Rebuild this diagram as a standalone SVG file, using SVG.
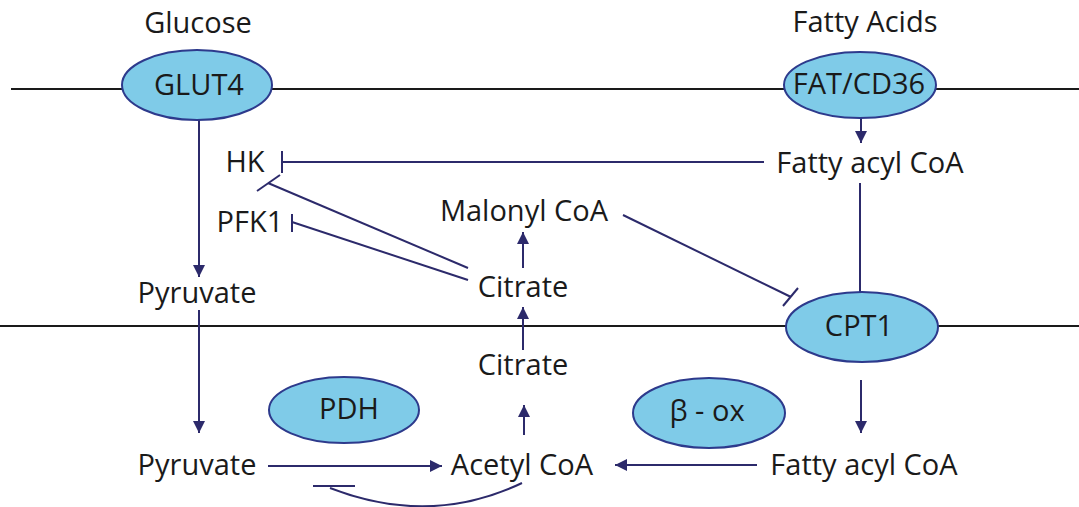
<svg xmlns="http://www.w3.org/2000/svg" width="1079" height="507" viewBox="0 0 1079 507">
<style>
text{font-family:"Open Sans","Liberation Sans",sans-serif;font-size:29px;fill:#1a1a1a;text-anchor:middle}
.mem{stroke:#1a1a1a;stroke-width:2;fill:none}
.enz{fill:#7fcbe8;stroke:#2d3a8c;stroke-width:2}
.c{stroke:#2c2a6b;stroke-width:2;fill:none}
</style>
<defs>
<marker id="ah" viewBox="0 0 12 12" refX="12" refY="6" markerWidth="12" markerHeight="12" markerUnits="userSpaceOnUse" orient="auto">
<path d="M0,0 L12,6 L0,12 Z" fill="#2c2a6b"/>
</marker>
</defs>
<g id="membranes">
<line class="mem" x1="11" y1="89" x2="1079" y2="89"/>
<line class="mem" x1="0" y1="326" x2="1079" y2="326"/>
</g>
<g id="connectors">
<line class="c" x1="199" y1="118" x2="199" y2="277" marker-end="url(#ah)"/>
<line class="c" x1="861" y1="118" x2="861" y2="143" marker-end="url(#ah)"/>
<line class="c" x1="282" y1="162" x2="764" y2="162"/>
<line class="c" x1="282" y1="151" x2="282" y2="173"/>
<line class="c" x1="468" y1="268" x2="268" y2="183"/>
<line class="c" x1="257" y1="191" x2="280" y2="175"/>
<line class="c" x1="468" y1="280" x2="292" y2="222"/>
<line class="c" x1="292" y1="214" x2="292" y2="232"/>
<line class="c" x1="523" y1="268" x2="523" y2="232" marker-end="url(#ah)"/>
<line class="c" x1="523" y1="350" x2="523" y2="307" marker-end="url(#ah)"/>
<line class="c" x1="524" y1="435" x2="524" y2="405" marker-end="url(#ah)"/>
<line class="c" x1="860" y1="183" x2="860" y2="292"/>
<line class="c" x1="623" y1="215" x2="791" y2="297"/>
<line class="c" x1="783" y1="306" x2="798" y2="288"/>
<line class="c" x1="199" y1="310" x2="199" y2="433" marker-end="url(#ah)"/>
<line class="c" x1="861" y1="380" x2="861" y2="433" marker-end="url(#ah)"/>
<line class="c" x1="268" y1="466" x2="442" y2="466" marker-end="url(#ah)"/>
<line class="c" x1="757" y1="465" x2="615" y2="465" marker-end="url(#ah)"/>
<path class="c" d="M522,483 Q430,527 330,488"/>
<line class="c" x1="313" y1="486" x2="355" y2="486"/>
</g>
<g id="glucose"><text x="198" y="33">Glucose</text></g>
<g id="fatty-acids"><text x="865" y="32">Fatty Acids</text></g>
<g id="glut4"><ellipse class="enz" cx="197" cy="85" rx="75" ry="35"/><text x="199" y="95">GLUT4</text></g>
<g id="fatcd36"><ellipse class="enz" cx="860" cy="85" rx="76" ry="33"/><text x="859" y="94">FAT/CD36</text></g>
<g id="hk"><text x="245" y="172">HK</text></g>
<g id="fatty-acyl-coa-1"><text x="870" y="173">Fatty acyl CoA</text></g>
<g id="pfk1"><text x="250" y="232">PFK1</text></g>
<g id="malonyl-coa"><text x="524" y="221">Malonyl CoA</text></g>
<g id="pyruvate-1"><text x="197" y="303">Pyruvate</text></g>
<g id="citrate-1"><text x="523" y="297">Citrate</text></g>
<g id="cpt1"><ellipse class="enz" cx="862" cy="327" rx="76" ry="35"/><text x="859" y="336">CPT1</text></g>
<g id="citrate-2"><text x="523" y="375">Citrate</text></g>
<g id="pdh"><ellipse class="enz" cx="344" cy="410" rx="75" ry="33"/><text x="349" y="419">PDH</text></g>
<g id="beta-ox"><ellipse class="enz" cx="709" cy="413" rx="76" ry="35"/><text x="707" y="421">β - ox</text></g>
<g id="pyruvate-2"><text x="197" y="475">Pyruvate</text></g>
<g id="acetyl-coa"><text x="522" y="475">Acetyl CoA</text></g>
<g id="fatty-acyl-coa-2"><text x="864" y="475">Fatty acyl CoA</text></g>
</svg>
